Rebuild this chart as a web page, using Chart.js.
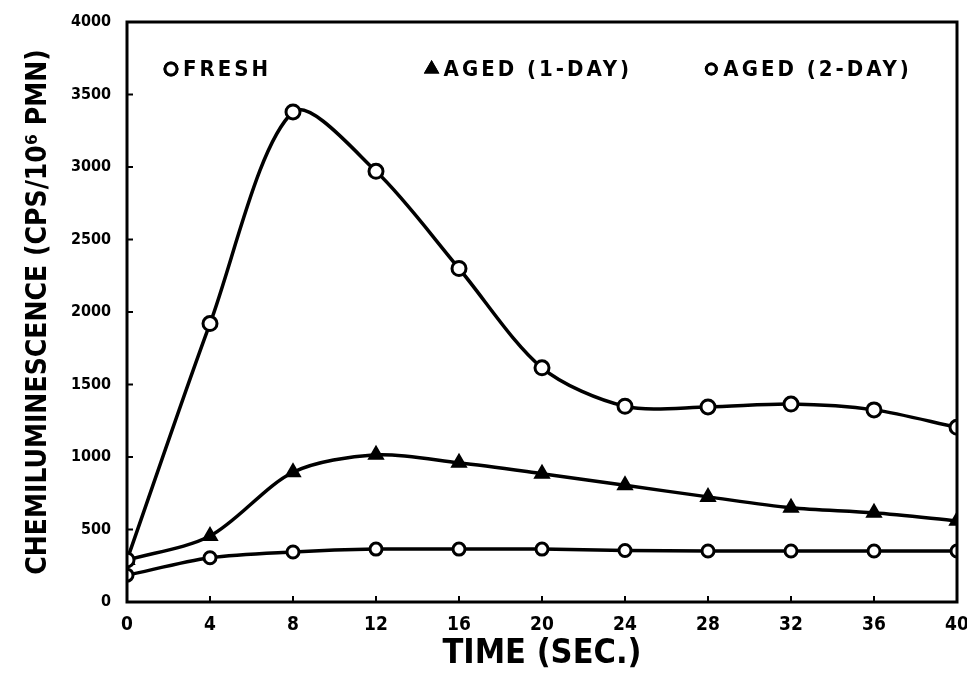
<!DOCTYPE html>
<html>
<head>
<meta charset="utf-8">
<script src="https://cdn.jsdelivr.net/npm/chart.js@4"></script>
<style>
  html, body { margin: 0; padding: 0; background: #fff; }
  #wrap { width: 967px; height: 679px; position: relative; }
</style>
</head>
<body>
<div id="wrap"><canvas id="c" width="967" height="679"></canvas></div>
<script>
const timeSec = [0, 4, 8, 12, 16, 20, 24, 28, 32, 36, 40];
const fresh   = [290, 1920, 3380, 2970, 2300, 1615, 1350, 1345, 1365, 1325, 1205];
const aged1   = [290, 455, 895, 1015, 960, 885, 805, 725, 650, 615, 560];
const aged2   = [185, 305, 345, 365, 365, 365, 355, 352, 352, 352, 352];
const seriesNames = ['FRESH', 'AGED (1-DAY)', 'AGED (2-DAY)'];
const xTicks = [0, 4, 8, 12, 16, 20, 24, 28, 32, 36, 40];
const yTicks = [0, 500, 1000, 1500, 2000, 2500, 3000, 3500, 4000];
const xTitle = 'TIME (SEC.)';
const yTitle = 'CHEMILUMINESCENCE (CPS/10\u2076 PMN)';

const FONT = "'DejaVu Sans Condensed', 'DejaVu Sans', sans-serif";

function pts(ys) { return timeSec.map((t, i) => ({ x: t, y: ys[i] })); }

const common = {
  borderColor: '#000',
  borderWidth: 3.5,
  pointBorderColor: '#000',
  pointBorderWidth: 3,
  tension: 0.3,
  fill: false
};

const frameAndTicks = {
  id: 'frameAndTicks',
  afterDraw(chart) {
    const { ctx, chartArea: a, scales } = chart;
    ctx.save();
    ctx.strokeStyle = '#000';
    ctx.lineWidth = 3;
    ctx.strokeRect(a.left, a.top, a.right - a.left, a.bottom - a.top);
    ctx.lineWidth = 2;
    scales.x.ticks.forEach(t => {
      const px = scales.x.getPixelForValue(t.value);
      ctx.beginPath(); ctx.moveTo(px, a.bottom); ctx.lineTo(px, a.bottom - 6); ctx.stroke();
    });
    scales.y.ticks.forEach(t => {
      const py = scales.y.getPixelForValue(t.value);
      ctx.beginPath(); ctx.moveTo(a.left, py); ctx.lineTo(a.left + 6, py); ctx.stroke();
    });
    // legend inside the plot
    const w = a.right - a.left;
    const ly = a.top + 47;
    const items = [
      { fx: 0.053, style: 'circle', r: 6, fill: '#fff' },
      { fx: 0.367, style: 'triangle', r: 6, fill: '#000' },
      { fx: 0.704, style: 'circle', r: 5, fill: '#fff' }
    ];
    ctx.font = "bold 22px " + FONT;
    ctx.textBaseline = 'middle';
    try { ctx.letterSpacing = '3px'; } catch (e) {}
    items.forEach((it, i) => {
      const mx = a.left + it.fx * w;
      ctx.fillStyle = it.fill;
      ctx.strokeStyle = '#000';
      ctx.lineWidth = 3;
      Chart.helpers.drawPoint(ctx, { pointStyle: it.style, radius: it.r, borderWidth: 3 }, mx, ly);
      ctx.fill(); ctx.stroke();
      ctx.fillStyle = '#000';
      ctx.fillText(seriesNames[i], mx + 12, ly + 1);
    });
    ctx.restore();
  }
};

new Chart(document.getElementById('c'), {
  type: 'line',
  data: {
    datasets: [
      Object.assign({}, common, { label: seriesNames[0], data: pts(fresh), pointStyle: 'circle', pointRadius: 7, pointBackgroundColor: '#fff' }),
      Object.assign({}, common, { label: seriesNames[1], data: pts(aged1), pointStyle: 'triangle', pointRadius: 7, pointBackgroundColor: '#000' }),
      Object.assign({}, common, { label: seriesNames[2], data: pts(aged2), pointStyle: 'circle', pointRadius: 6, pointBackgroundColor: '#fff' })
    ]
  },
  options: {
    responsive: false,
    animation: false,
    layout: { padding: { top: 22, right: 9, left: 0, bottom: 0 } },
    plugins: { legend: { display: false }, tooltip: { enabled: false } },
    scales: {
      x: {
        type: 'linear', min: 0, max: 40,
        afterBuildTicks(s) { s.ticks = xTicks.map(v => ({ value: v })); },
        afterFit(s) { s.height = 77; s.paddingLeft = 0; s.paddingRight = 0; },
        grid: { display: false },
        border: { display: false },
        ticks: { color: '#000', padding: 4, callback: v => String(v), font: { family: FONT, size: 19, weight: 'bold' } },
        title: { display: true, text: xTitle, color: '#000', padding: { top: 2 }, font: { family: FONT, size: 34, weight: 'bold' } }
      },
      y: {
        type: 'linear', min: 0, max: 4000,
        afterBuildTicks(s) { s.ticks = yTicks.map(v => ({ value: v })); },
        afterFit(s) { s.width = 127; s.paddingTop = 0; s.paddingBottom = 0; },
        grid: { display: false },
        border: { display: false },
        ticks: { color: '#000', padding: 8, callback: v => String(v), font: { family: FONT, size: 16, weight: 'bold' } },
        title: { display: true, text: yTitle, color: '#000', padding: { top: 22, bottom: 0 }, font: { family: FONT, size: 28, weight: 'bold' } }
      }
    }
  },
  plugins: [frameAndTicks]
});
</script>
</body>
</html>
